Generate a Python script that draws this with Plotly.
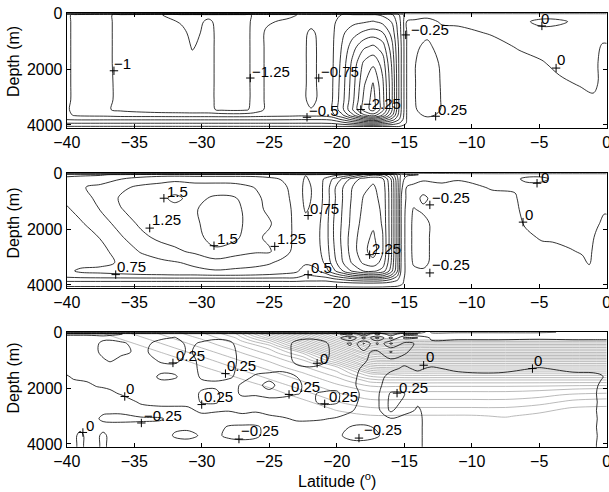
import numpy as np
import plotly.graph_objects as go

# ---------------- axes / ticks ----------------
X_TICKS = [-40, -35, -30, -25, -20, -15, -10, -5, 0]
Y_TICKS = [0, 2000, 4000]

# ---------------- panel 1 (black contours) ----------------
P1_DEPTH = [0, 50, 300, 700, 1200, 1800, 2500, 3100, 3450, 3650, 3800, 3950, 4060, 4130]
P1_LAT = [-40, -39.4, -37, -36, -33.5, -31.5, -30.7, -29.5, -28.5, -26.8, -26.0, -25.2, -23.5,
          -22.6, -21.9, -21.1, -20.4, -19.6, -18.8, -18.0, -17.3, -16.6, -15.9, -15.3, -14.8,
          -14.2, -13.3, -12.2, -11.0, -8.5, -6.5, -4.8, -3.5, -2.0, -1.0, -0.3, 0]
P1_COLS = [
    [0.02, -0.68, -0.68, -0.68, -0.68, -0.68, -0.68, -0.68, -0.70, -0.68, -0.52, -0.23, 0.02, 0.1],
    [0.02, -0.82, -0.82, -0.82, -0.82, -0.82, -0.82, -0.82, -0.85, -0.78, -0.54, -0.23, 0.02, 0.1],
    [0.02, -0.97, -0.97, -0.97, -0.97, -0.97, -0.97, -0.97, -0.98, -0.82, -0.54, -0.23, 0.02, 0.1],
    [0.02, -1.05, -1.05, -1.05, -1.05, -1.05, -1.04, -1.04, -1.05, -0.85, -0.54, -0.23, 0.02, 0.1],
    [0.02, -1.22, -1.15, -1.15, -1.15, -1.15, -1.15, -1.15, -1.15, -0.86, -0.54, -0.23, 0.02, 0.1],
    [0.02, -1.32, -1.27, -1.20, -1.18, -1.18, -1.18, -1.18, -1.18, -0.87, -0.54, -0.23, 0.02, 0.1],
    [0.02, -1.35, -1.32, -1.30, -1.26, -1.21, -1.20, -1.20, -1.20, -0.87, -0.54, -0.23, 0.02, 0.1],
    [0.02, -1.30, -1.22, -1.20, -1.20, -1.20, -1.20, -1.20, -1.20, -0.87, -0.54, -0.23, 0.02, 0.1],
    [0.02, -1.32, -1.32, -1.32, -1.32, -1.32, -1.32, -1.32, -1.30, -0.88, -0.54, -0.23, 0.02, 0.1],
    [0.02, -1.32, -1.32, -1.32, -1.32, -1.32, -1.32, -1.32, -1.30, -0.88, -0.54, -0.23, 0.02, 0.1],
    [0.02, -1.20, -1.18, -1.17, -1.17, -1.17, -1.17, -1.17, -1.15, -0.86, -0.54, -0.23, 0.02, 0.1],
    [0.02, -1.15, -1.05, -0.95, -0.95, -0.95, -0.95, -0.95, -0.95, -0.84, -0.54, -0.23, 0.02, 0.1],
    [0.02, -1.08, -0.92, -0.88, -0.88, -0.88, -0.88, -0.88, -0.88, -0.82, -0.53, -0.23, 0.02, 0.1],
    [0.02, -0.95, -0.82, -0.80, -0.80, -0.80, -0.80, -0.80, -0.80, -0.80, -0.52, -0.23, 0.02, 0.1],
    [0.02, -0.90, -0.80, -0.72, -0.70, -0.70, -0.70, -0.70, -0.76, -0.82, -0.52, -0.23, 0.02, 0.1],
    [0.02, -0.88, -0.85, -0.80, -0.80, -0.80, -0.80, -0.80, -0.80, -0.82, -0.52, -0.23, 0.02, 0.1],
    [0.02, -0.92, -0.93, -0.93, -0.93, -0.93, -0.94, -0.95, -0.98, -0.90, -0.55, -0.24, 0.02, 0.1],
    [0.02, -1.01, -1.10, -1.20, -1.27, -1.33, -1.37, -1.40, -1.42, -1.20, -0.80, -0.35, 0.02, 0.1],
    [0.02, -1.02, -1.18, -1.40, -1.65, -1.84, -1.90, -1.95, -2.02, -1.70, -1.10, -0.48, 0.02, 0.1],
    [0.02, -1.02, -1.22, -1.55, -1.95, -2.30, -2.45, -2.55, -2.60, -2.20, -1.40, -0.60, 0.02, 0.1],
    [0.02, -1.02, -1.27, -1.62, -2.05, -2.45, -2.77, -2.85, -2.85, -2.40, -1.52, -0.65, 0.02, 0.1],
    [0.02, -0.95, -1.18, -1.52, -1.88, -2.15, -2.30, -2.35, -2.35, -1.98, -1.30, -0.55, 0.02, 0.1],
    [0.02, -0.80, -0.98, -1.15, -1.32, -1.45, -1.52, -1.52, -1.52, -1.30, -0.90, -0.40, 0.02, 0.1],
    [0.02, -0.45, -0.52, -0.55, -0.60, -0.60, -0.60, -0.60, -0.60, -0.55, -0.45, -0.20, 0.02, 0.1],
    [0.02, -0.05, 0.01, 0.01, 0.02, 0.02, 0.02, 0.02, 0.02, 0.02, 0.02, 0.03, 0.05, 0.1],
    [0.02, -0.05, 0.02, 0.10, 0.20, 0.24, 0.24, 0.24, 0.22, 0.15, 0.08, 0.05, 0.05, 0.1],
    [0.02, -0.05, 0.05, 0.18, 0.32, 0.42, 0.45, 0.45, 0.42, 0.32, 0.15, 0.06, 0.05, 0.1],
    [0.02, -0.05, -0.02, 0.05, 0.12, 0.20, 0.22, 0.23, 0.23, 0.18, 0.10, 0.06, 0.05, 0.1],
    [0.02, -0.05, -0.02, 0.03, 0.08, 0.12, 0.15, 0.15, 0.15, 0.12, 0.10, 0.08, 0.06, 0.1],
    [0.02, -0.05, -0.04, -0.01, 0.04, 0.08, 0.10, 0.10, 0.10, 0.10, 0.10, 0.08, 0.06, 0.1],
    [0.02, -0.05, -0.03, -0.04, -0.01, 0.04, 0.08, 0.10, 0.10, 0.10, 0.10, 0.08, 0.06, 0.1],
    [0.02, -0.05, 0.03, -0.04, -0.04, 0.01, 0.05, 0.08, 0.10, 0.10, 0.10, 0.08, 0.06, 0.1],
    [0.02, -0.05, 0.02, -0.05, -0.05, -0.03, 0.02, 0.06, 0.08, 0.08, 0.08, 0.08, 0.06, 0.1],
    [0.02, -0.05, -0.03, -0.05, -0.05, -0.04, -0.01, 0.04, 0.06, 0.07, 0.07, 0.07, 0.06, 0.1],
    [0.02, -0.05, -0.04, -0.05, -0.03, -0.03, -0.03, 0.02, 0.05, 0.06, 0.06, 0.06, 0.06, 0.1],
    [0.02, -0.05, -0.04, -0.03, 0.01, 0.03, 0.03, 0.04, 0.05, 0.05, 0.05, 0.05, 0.05, 0.1],
    [0.02, -0.05, -0.04, -0.03, 0.01, 0.03, 0.03, 0.04, 0.05, 0.05, 0.05, 0.05, 0.05, 0.1],
]

# ---------------- panel 2 (black contours) ----------------
P2_DEPTH = [0, 50, 200, 500, 900, 1300, 1800, 2300, 2800, 3200, 3500, 3650, 3800, 3950, 4110]
P2_LAT = [-40, -39, -37.5, -36, -34.5, -33, -32, -30.5, -29, -27.5, -26, -25, -24, -23, -22.3,
          -21.5, -20.8, -20.2, -19.5, -18.8, -18.0, -17.3, -16.6, -16.0, -15.5, -15.2, -14.8,
          -14.3, -13.6, -12.9, -12.2, -11.0, -8.5, -6.8, -6.0, -4.8, -4.0, -2.8, -1.8, -1.3,
          -0.7, -0.2, 0]
P2_COLS = [
    [-0.02, 0.70, 0.80, 0.85, 0.80, 0.72, 0.66, 0.62, 0.60, 0.60, 0.68, 0.60, 0.40, 0.10, -0.05],
    [-0.02, 0.70, 0.85, 0.98, 0.92, 0.82, 0.72, 0.65, 0.62, 0.64, 0.80, 0.65, 0.40, 0.10, -0.05],
    [-0.02, 0.72, 0.90, 1.05, 1.05, 1.01, 0.88, 0.76, 0.68, 0.68, 0.82, 0.68, 0.40, 0.10, -0.05],
    [-0.02, 0.80, 0.99, 1.20, 1.28, 1.24, 1.10, 0.97, 0.85, 0.78, 0.86, 0.70, 0.40, 0.10, -0.05],
    [-0.02, 0.85, 1.10, 1.30, 1.35, 1.33, 1.30, 1.18, 1.02, 0.88, 0.90, 0.72, 0.40, 0.10, -0.05],
    [-0.02, 0.90, 1.15, 1.35, 1.45, 1.40, 1.36, 1.32, 1.12, 0.95, 0.92, 0.73, 0.40, 0.10, -0.05],
    [-0.02, 0.90, 1.18, 1.40, 1.55, 1.42, 1.38, 1.35, 1.20, 0.98, 0.93, 0.74, 0.40, 0.10, -0.05],
    [-0.02, 0.90, 1.15, 1.35, 1.42, 1.48, 1.45, 1.42, 1.30, 1.05, 0.95, 0.74, 0.40, 0.10, -0.05],
    [-0.02, 0.90, 1.15, 1.35, 1.55, 1.62, 1.65, 1.60, 1.45, 1.15, 0.98, 0.76, 0.40, 0.10, -0.05],
    [-0.02, 0.90, 1.15, 1.33, 1.52, 1.58, 1.60, 1.55, 1.35, 1.10, 0.96, 0.76, 0.40, 0.10, -0.05],
    [-0.02, 0.90, 1.12, 1.24, 1.30, 1.32, 1.32, 1.30, 1.28, 1.05, 0.95, 0.74, 0.40, 0.10, -0.05],
    [-0.02, 0.90, 1.05, 1.15, 1.18, 1.20, 1.28, 1.20, 1.28, 1.02, 0.92, 0.72, 0.40, 0.10, -0.05],
    [-0.02, 0.85, 0.98, 1.05, 1.08, 1.10, 1.10, 1.10, 1.08, 0.95, 0.85, 0.70, 0.40, 0.10, -0.05],
    [-0.02, 0.80, 0.88, 0.90, 0.92, 0.94, 0.95, 0.95, 0.94, 0.90, 0.80, 0.65, 0.40, 0.10, -0.05],
    [-0.02, 0.76, 0.72, 0.68, 0.68, 0.72, 0.85, 0.88, 0.88, 0.80, 0.60, 0.48, 0.35, 0.10, -0.05],
    [-0.02, 0.80, 0.85, 0.82, 0.82, 0.85, 0.90, 0.92, 0.90, 0.85, 0.70, 0.55, 0.35, 0.10, -0.05],
    [-0.02, 0.85, 1.05, 1.10, 1.10, 1.12, 1.15, 1.15, 1.12, 1.05, 0.90, 0.65, 0.35, 0.10, -0.05],
    [-0.02, 0.90, 1.30, 1.45, 1.45, 1.48, 1.52, 1.52, 1.48, 1.40, 1.20, 0.85, 0.45, 0.12, -0.05],
    [-0.02, 1.02, 1.55, 1.77, 1.78, 1.80, 1.82, 1.85, 1.82, 1.77, 1.52, 1.05, 0.55, 0.15, -0.05],
    [-0.02, 1.20, 1.85, 2.02, 2.05, 2.08, 2.10, 2.15, 2.15, 2.05, 1.80, 1.27, 0.65, 0.18, -0.05],
    [-0.02, 1.52, 2.10, 2.20, 2.27, 2.30, 2.35, 2.40, 2.42, 2.30, 2.02, 1.40, 0.70, 0.20, -0.05],
    [-0.02, 1.70, 2.20, 2.28, 2.32, 2.38, 2.45, 2.55, 2.62, 2.40, 2.05, 1.45, 0.72, 0.20, -0.05],
    [-0.02, 1.60, 2.05, 2.15, 2.18, 2.20, 2.22, 2.27, 2.27, 2.15, 1.90, 1.35, 0.68, 0.18, -0.05],
    [-0.02, 1.20, 1.52, 1.60, 1.62, 1.62, 1.62, 1.62, 1.60, 1.55, 1.40, 1.02, 0.52, 0.12, -0.05],
    [-0.02, 0.70, 0.80, 0.85, 0.85, 0.85, 0.85, 0.85, 0.85, 0.82, 0.77, 0.55, 0.30, 0.08, -0.05],
    [-0.02, 0.40, 0.35, 0.30, 0.22, 0.20, 0.20, 0.20, 0.20, 0.18, 0.15, 0.10, 0.05, 0.02, -0.05],
    [-0.02, 0.30, 0.15, -0.02, -0.05, -0.10, -0.12, -0.12, -0.12, -0.10, -0.08, -0.07, -0.06, -0.05, -0.05],
    [-0.02, 0.28, 0.08, -0.05, -0.15, -0.27, -0.30, -0.30, -0.30, -0.28, -0.20, -0.12, -0.08, -0.06, -0.05],
    [-0.02, 0.22, 0.05, -0.15, -0.30, -0.20, -0.35, -0.35, -0.35, -0.32, -0.22, -0.12, -0.08, -0.06, -0.05],
    [-0.02, 0.15, 0.05, -0.08, -0.20, -0.15, -0.20, -0.20, -0.20, -0.20, -0.15, -0.10, -0.08, -0.06, -0.05],
    [-0.02, 0.12, 0.04, -0.04, -0.08, -0.10, -0.10, -0.10, -0.10, -0.10, -0.10, -0.08, -0.07, -0.06, -0.05],
    [-0.02, 0.08, 0.01, -0.04, -0.06, -0.08, -0.08, -0.08, -0.08, -0.08, -0.08, -0.07, -0.06, -0.05, -0.05],
    [-0.02, 0.05, 0.03, 0.01, -0.03, -0.05, -0.06, -0.06, -0.06, -0.06, -0.06, -0.06, -0.06, -0.05, -0.05],
    [-0.02, 0.05, 0.03, 0.01, -0.01, -0.02, -0.03, -0.05, -0.06, -0.06, -0.06, -0.06, -0.06, -0.05, -0.05],
    [-0.02, 0.05, -0.03, 0.05, 0.04, 0.03, 0.01, -0.02, -0.04, -0.06, -0.06, -0.06, -0.06, -0.05, -0.05],
    [-0.02, 0.04, -0.03, 0.05, 0.05, 0.04, 0.03, 0.01, -0.03, -0.05, -0.06, -0.06, -0.06, -0.05, -0.05],
    [-0.02, 0.05, 0.02, 0.05, 0.05, 0.05, 0.04, 0.01, -0.02, -0.05, -0.06, -0.06, -0.06, -0.05, -0.05],
    [-0.02, 0.05, 0.05, 0.05, 0.05, 0.05, 0.05, 0.03, -0.01, -0.04, -0.06, -0.06, -0.06, -0.05, -0.05],
    [-0.02, 0.05, 0.05, 0.05, 0.05, 0.05, 0.05, 0.04, 0.01, -0.02, -0.05, -0.06, -0.06, -0.05, -0.05],
    [-0.02, 0.05, 0.05, 0.05, 0.05, 0.05, 0.04, 0.03, 0.02, 0.01, -0.03, -0.05, -0.06, -0.05, -0.05],
    [-0.02, 0.05, 0.05, 0.05, 0.04, 0.03, 0.01, -0.02, -0.04, -0.05, -0.06, -0.06, -0.06, -0.05, -0.05],
    [-0.02, 0.05, 0.05, 0.04, 0.03, 0.01, -0.02, -0.04, -0.05, -0.05, -0.06, -0.06, -0.06, -0.05, -0.05],
    [-0.02, 0.05, 0.05, 0.04, 0.03, 0.01, -0.02, -0.04, -0.05, -0.05, -0.06, -0.06, -0.06, -0.05, -0.05],
]

# ---------------- panel 3 (black contours) ----------------
P3_DEPTH = [0, 60, 200, 400, 700, 1000, 1300, 1600, 1900, 2200, 2500, 2800, 3100, 3400, 3700, 4000, 4110]
P3_LAT = [-40, -39.5, -39.0, -38.5, -37.8, -37.3, -36.8, -36.0, -34.5, -33.0, -32.0, -31.0, -30.0,
          -29.0, -28.0, -27.0, -26.0, -25.0, -24.0, -23.0, -22.0, -21.0, -20.0, -19.0, -18.0,
          -17.0, -16.0, -15.0, -14.0, -13.0, -11.0, -8.0, -5.0, -2.5, -1.0, -0.4, 0]
P3_COLS = [
    [-0.8, 0.30, 0.15, 0.12, 0.12, 0.10, 0.06, -0.02, -0.06, -0.08, -0.10, -0.12, -0.12, -0.10, -0.10, -0.10, -0.10],
    [-0.8, 0.30, 0.15, 0.12, 0.12, 0.10, 0.08, 0.02, -0.05, -0.08, -0.10, -0.12, -0.13, -0.10, -0.10, -0.10, -0.10],
    [-0.8, 0.30, 0.15, 0.12, 0.12, 0.10, 0.08, 0.03, -0.04, -0.08, -0.10, -0.12, -0.13, -0.10, 0.10, 0.10, 0.10],
    [-0.8, 0.30, 0.15, 0.12, 0.12, 0.10, 0.08, 0.04, -0.03, -0.08, -0.10, -0.13, -0.15, -0.10, -0.10, -0.10, -0.10],
    [-0.8, 0.30, 0.18, 0.22, 0.22, 0.15, 0.10, 0.05, 0.01, -0.06, -0.10, -0.18, -0.22, -0.10, -0.10, -0.10, -0.10],
    [-0.8, 0.30, 0.20, 0.30, 0.32, 0.22, 0.12, 0.06, 0.02, -0.05, -0.10, -0.20, -0.30, -0.15, 0.10, 0.10, 0.10],
    [-0.8, 0.28, 0.20, 0.32, 0.34, 0.28, 0.12, 0.06, 0.03, -0.03, -0.10, -0.20, -0.32, -0.15, -0.10, -0.10, -0.10],
    [-0.8, 0.26, 0.18, 0.28, 0.30, 0.20, 0.10, 0.08, 0.05, 0.01, -0.08, -0.20, -0.32, -0.15, -0.10, -0.10, -0.10],
    [-0.8, 0.20, 0.15, 0.18, 0.20, 0.15, 0.10, 0.08, 0.06, 0.04, 0.02, -0.06, -0.30, -0.15, -0.10, -0.10, -0.10],
    [-0.8, 0.20, 0.22, 0.32, 0.34, 0.28, 0.18, 0.30, 0.15, 0.06, 0.03, -0.03, -0.28, -0.12, -0.10, -0.10, -0.10],
    [-0.8, 0.20, 0.26, 0.35, 0.36, 0.30, 0.18, 0.28, 0.12, 0.06, 0.03, -0.03, -0.10, -0.20, -0.28, -0.15, -0.12],
    [-0.8, 0.20, 0.18, 0.20, 0.22, 0.18, 0.15, 0.12, 0.10, 0.08, 0.04, -0.03, -0.08, -0.20, -0.32, -0.15, -0.12],
    [-0.8, 0.20, 0.18, 0.28, 0.32, 0.30, 0.30, 0.28, 0.18, 0.30, 0.28, 0.03, -0.06, -0.15, -0.22, -0.12, -0.10],
    [-0.8, 0.20, 0.22, 0.32, 0.35, 0.33, 0.32, 0.30, 0.20, 0.32, 0.30, 0.02, -0.08, -0.15, -0.20, -0.12, -0.10],
    [-0.8, 0.20, 0.20, 0.30, 0.33, 0.32, 0.30, 0.28, 0.15, 0.10, 0.08, 0.01, -0.10, -0.28, -0.30, -0.15, -0.12],
    [-0.8, 0.18, 0.12, 0.15, 0.18, 0.20, 0.20, 0.18, 0.28, 0.30, 0.12, 0.06, -0.10, -0.30, -0.35, -0.15, -0.12],
    [-0.8, 0.18, 0.10, 0.08, 0.10, 0.12, 0.18, 0.28, 0.30, 0.28, 0.15, 0.02, -0.08, -0.30, -0.30, -0.15, -0.12],
    [-0.8, 0.18, 0.12, 0.10, 0.10, 0.12, 0.20, 0.30, 0.20, 0.30, 0.20, 0.05, -0.04, -0.15, -0.15, -0.12, -0.10],
    [-0.8, 0.18, 0.12, 0.10, 0.10, 0.12, 0.22, 0.30, 0.32, 0.30, 0.18, 0.08, -0.02, -0.10, -0.12, -0.12, -0.10],
    [-0.8, 0.15, 0.05, -0.05, -0.06, -0.05, 0.05, 0.26, 0.30, 0.26, 0.15, 0.08, 0.02, -0.06, -0.10, -0.10, -0.10],
    [-0.8, 0.15, 0.02, -0.08, -0.10, -0.08, 0.02, 0.12, 0.18, 0.22, 0.20, 0.10, 0.02, -0.06, -0.10, -0.10, -0.10],
    [-0.8, 0.15, 0.05, -0.04, -0.05, -0.03, 0.04, 0.10, 0.15, 0.28, 0.30, 0.12, 0.01, -0.08, -0.12, -0.12, -0.10],
    [-0.8, 0.20, 0.12, 0.08, 0.06, 0.06, 0.08, 0.10, 0.15, 0.30, 0.28, 0.10, -0.02, -0.15, -0.20, -0.15, -0.12],
    [-0.8, 0.40, -0.30, 0.30, 0.10, 0.08, 0.05, 0.04, 0.03, 0.06, 0.05, 0.02, -0.06, -0.26, -0.32, -0.18, -0.12],
    [-0.8, -0.40, 0.35, -0.28, 0.05, 0.02, -0.02, -0.04, -0.04, -0.03, -0.04, -0.06, -0.12, -0.30, -0.35, -0.18, -0.12],
    [-0.8, 0.40, -0.35, 0.30, -0.05, -0.06, -0.06, -0.06, -0.05, -0.05, -0.05, -0.08, -0.12, -0.22, -0.28, -0.15, -0.10],
    [-0.6, -0.30, 0.35, -0.30, 0.28, -0.05, -0.03, 0.05, 0.10, 0.28, 0.32, 0.30, -0.02, -0.10, -0.10, -0.08, -0.08],
    [-0.5, 0.30, -0.30, 0.05, 0.02, -0.04, 0.02, 0.08, 0.12, 0.26, 0.22, 0.06, -0.06, -0.08, -0.08, -0.08, -0.08],
    [-0.4, 0.26, -0.26, -0.02, -0.05, -0.06, -0.02, 0.05, 0.08, 0.06, 0.02, -0.02, -0.03, -0.03, -0.03, -0.03, -0.03],
    [0.3, 0.12, 0.04, -0.06, -0.10, -0.08, 0.02, 0.06, 0.08, 0.08, 0.08, 0.07, 0.06, 0.06, 0.06, 0.06, 0.06],
    [0.3, 0.10, 0.03, -0.06, -0.10, -0.10, -0.03, 0.05, 0.08, 0.08, 0.08, 0.08, 0.07, 0.06, 0.06, 0.06, 0.06],
    [0.3, 0.10, 0.03, -0.06, -0.10, -0.10, -0.04, 0.04, 0.08, 0.08, 0.08, 0.08, 0.07, 0.06, 0.06, 0.06, 0.06],
    [0.3, 0.10, 0.02, -0.06, -0.10, -0.08, 0.01, 0.05, 0.08, 0.08, 0.08, 0.08, 0.07, 0.06, 0.06, 0.06, 0.06],
    [0.2, 0.10, 0.03, -0.06, -0.10, -0.10, -0.03, 0.04, 0.06, 0.06, 0.06, 0.05, 0.05, 0.05, 0.05, 0.05, 0.05],
    [0.2, 0.10, 0.03, -0.06, -0.10, -0.10, -0.03, 0.03, 0.03, 0.02, 0.02, 0.02, 0.02, 0.02, 0.02, 0.02, 0.02],
    [0.1, 0.10, 0.03, -0.06, -0.10, -0.10, -0.03, 0.01, -0.02, -0.03, -0.02, -0.03, -0.02, -0.03, -0.02, -0.03, -0.03],
    [0.1, 0.10, 0.03, -0.06, -0.10, -0.10, -0.03, -0.02, -0.03, -0.03, -0.03, -0.03, -0.03, -0.03, -0.03, -0.03, -0.03],
]

# ---------------- panel 3 (grey contours) ----------------
P3G_DEPTH = [0, 150, 300, 500, 750, 1000, 1250, 1500, 1750, 2000, 2250, 2500, 2750, 3000, 3500, 4110]
P3G_LAT = [-40, -37.5, -35, -32.5, -30, -27.5, -25, -22.5, -20, -17.5, -15, -12.5, -10, -7.5, -5, -2.5, 0]
P3G_COLS = [
    [31.2, 31.5, 31.8, 32.1, 32.6, 33.1, 33.5, 34.0, 34.5, 34.9, 35.4, 35.9, 36.4, 36.8, 37.8, 38.9],
    [30.0, 30.45, 30.9, 31.4, 31.9, 32.4, 32.9, 33.4, 33.9, 34.4, 34.8, 35.3, 35.8, 36.3, 37.2, 38.4],
    [28.75, 29.22, 29.69, 30.3, 31.05, 31.6, 32.1, 32.55, 33.0, 33.5, 34.0, 34.4, 34.9, 35.4, 36.3, 37.5],
    [27.5, 27.97, 28.44, 29.06, 29.84, 30.6, 31.3, 31.8, 32.2, 32.7, 33.2, 33.7, 34.1, 34.6, 35.5, 36.7],
    [26.0, 26.63, 27.19, 27.81, 28.6, 29.4, 30.1, 30.9, 31.5, 32.0, 32.4, 32.9, 33.4, 33.8, 34.8, 35.9],
    [23.75, 24.76, 25.52, 26.42, 27.35, 28.13, 28.9, 29.69, 30.45, 31.2, 31.7, 32.1, 32.6, 33.1, 34.0, 35.2],
    [17.5, 19.85, 22.19, 24.48, 25.76, 26.83, 27.65, 28.44, 29.22, 30.05, 30.75, 31.4, 31.9, 32.3, 33.3, 34.4],
    [11.25, 13.6, 15.94, 19.06, 22.97, 25.04, 26.2, 27.19, 27.97, 28.75, 29.53, 30.3, 31.05, 31.6, 32.5, 33.7],
    [5.5, 7.34, 9.69, 12.81, 16.72, 20.63, 24.19, 25.52, 26.63, 27.5, 28.28, 29.05, 29.84, 30.6, 31.8, 32.9],
    [-1.25, 1.1, 3.44, 6.56, 10.47, 14.38, 18.28, 22.19, 24.76, 26.5, 27.5, 28.3, 29.2, 30.1, 31.1, 32.1],
    [-3.0, -1.2, 1.5, 5.2, 9.5, 14.2, 18.1, 21.5, 24.5, 26.5, 27.5, 28.3, 29.2, 30.1, 31.1, 32.0],
    [-3.0, -1.2, 1.5, 5.2, 9.5, 14.2, 18.1, 21.5, 24.5, 26.5, 27.5, 28.3, 29.2, 30.1, 31.1, 32.0],
    [-3.0, -1.2, 1.5, 5.2, 9.5, 14.2, 18.1, 21.5, 24.5, 26.5, 27.5, 28.3, 29.2, 30.1, 31.1, 32.0],
    [-3.0, -1.2, 1.5, 5.2, 9.5, 14.2, 18.1, 21.5, 24.5, 26.5, 27.5, 28.3, 29.2, 29.9, 31.1, 32.0],
    [-3.0, -1.2, 1.5, 5.2, 9.5, 14.2, 18.1, 21.5, 24.5, 26.6, 27.7, 28.6, 29.6, 30.3, 31.2, 32.0],
    [-3.0, -1.2, 1.5, 5.2, 9.5, 14.2, 18.1, 21.5, 24.5, 26.8, 28.2, 29.3, 30.2, 30.8, 31.5, 32.2],
    [-3.0, -1.2, 1.5, 5.2, 9.5, 14.2, 18.1, 21.5, 24.5, 26.9, 28.4, 29.5, 30.3, 30.9, 31.6, 32.2],
]

# ---------------- contour labels: (text, text lat, text depth, marker lat, marker depth) ----------------
LABELS_P1 = [
    ("\u22121", -36.59, 1810, -36.5, 2060),
    ("\u22121.25", -26.32, 2085, -26.4, 2320),
    ("\u22120.75", -21.26, 2085, -21.33, 2320),
    ("\u22120.5", -22.13, 3470, -22.2, 3727),
    ("\u22122.25", -18.1, 3230, -18.22, 3450),
    ("\u22120.25", -14.6, 585, -14.89, 775),
    ("0.25", -12.6, 3450, -12.67, 3690),
    ("0", -4.91, 180, -4.8, 453),
    ("0", -3.73, 1667, -3.75, 1963),
]
LABELS_P2 = [
    ("1.5", -32.67, 640, -32.8, 893),
    ("1.25", -33.73, 1667, -33.85, 1964),
    ("1.5", -28.91, 2320, -29.09, 2595),
    ("0.75", -36.37, 3345, -36.37, 3631),
    ("0.75", -22.05, 1250, -22.12, 1513),
    ("1.25", -24.47, 2320, -24.59, 2620),
    ("0.5", -22.0, 3390, -22.12, 3631),
    ("2.25", -17.43, 2710, -17.56, 2917),
    ("\u22120.25", -12.99, 875, -13.1, 1132),
    ("0", -6.13, 1489, -6.2, 1750),
    ("\u22120.25", -12.99, 3256, -13.1, 3570),
    ("0", -4.96, 150, -5.16, 357),
]
LABELS_P3 = [
    ("0.25", -32.0, 820, -32.13, 1097),
    ("0.25", -28.17, 1180, -28.24, 1480),
    ("0", -35.7, 2022, -35.7, 2300),
    ("0.25", -29.9, 2293, -30.0, 2590),
    ("\u22120.25", -34.35, 2985, -34.47, 3250),
    ("0", -38.67, 3335, -38.8, 3590),
    ("\u22120.25", -27.19, 3527, -27.24, 3826),
    ("0", -21.33, 939, -21.45, 1110),
    ("0.25", -23.48, 1932, -23.53, 2227),
    ("0.25", -20.64, 2293, -20.89, 2563),
    ("\u22120.25", -18.05, 3491, -18.35, 3791),
    ("0", -13.48, 850, -13.56, 1180),
    ("0.25", -15.46, 1963, -15.53, 2180),
    ("0", -5.46, 1012, -5.5, 1300),
]

# ---------------- figure ----------------
FONT = "Liberation Sans, Arial, Helvetica, sans-serif"
W, H = 609, 492


def px_x(p):
    return p / W


def px_y(p):
    return 1 - p / H


X_DOM = [px_x(66.7), px_x(606.7)]
Y_DOMS = [[px_y(127.7), px_y(13.3)],
          [px_y(287.7), px_y(173.3)],
          [px_y(446.7), px_y(332.3)]]

fig = go.Figure()


def add_field(lat, depth, cols, start, end, size, color, width, idx):
    z = np.array(cols, dtype=float).T
    fig.add_trace(go.Contour(
        x=lat, y=depth, z=z, autocontour=False,
        contours=dict(coloring="none", start=start, end=end, size=size, showlabels=False),
        line=dict(color=color, width=width, smoothing=1.0),
        showscale=False, hoverinfo="skip",
        xaxis="x" if idx == 1 else f"x{idx}", yaxis="y" if idx == 1 else f"y{idx}",
    ))


add_field(P1_LAT, P1_DEPTH, P1_COLS, -3.0, 0.5, 0.25, "black", 0.8, 1)
add_field(P2_LAT, P2_DEPTH, P2_COLS, -0.5, 3.0, 0.25, "black", 0.8, 2)
add_field(P3G_LAT, P3G_DEPTH, P3G_COLS, 1, 30, 1, "#a8a8a8", 0.8, 3)
add_field(P3_LAT, P3_DEPTH, P3_COLS, -1.0, 1.0, 0.25, "black", 0.8, 3)

annotations = []
for idx, labels in enumerate([LABELS_P1, LABELS_P2, LABELS_P3], start=1):
    xr = "x" if idx == 1 else f"x{idx}"
    yr = "y" if idx == 1 else f"y{idx}"
    fig.add_trace(go.Scatter(
        x=[l[3] for l in labels], y=[l[4] for l in labels], mode="markers",
        marker=dict(symbol="cross-thin", size=6, line=dict(color="black", width=1)),
        hoverinfo="skip", showlegend=False, xaxis=xr, yaxis=yr))
    for text, tx, ty, _, _ in labels:
        annotations.append(dict(x=tx, y=ty, xref=xr, yref=yr, text=text, showarrow=False,
                                xanchor="left", yanchor="middle", borderpad=0,
                                font=dict(family=FONT, size=15, color="black")))

# y-axis titles
for yc in [px_y(61.7), px_y(223.3), px_y(378.3)]:
    annotations.append(dict(x=px_x(13.3), y=yc, xref="paper", yref="paper", text="Depth (m)",
                            textangle=-90, showarrow=False, xanchor="center", yanchor="middle",
                            font=dict(family=FONT, size=16, color="black")))
# x-axis title
annotations.append(dict(x=px_x(336.7), y=px_y(480), xref="paper", yref="paper",
                        text="Latitude (<sup>o</sup>)", showarrow=False,
                        xanchor="center", yanchor="middle",
                        font=dict(family=FONT, size=16, color="black")))

axis_common = dict(showgrid=False, zeroline=False, showline=True, linecolor="black", linewidth=1,
                   mirror="ticks", ticks="inside", ticklen=4, tickwidth=1, tickcolor="black",
                   automargin=False, ticklabeloverflow="allow",
                   tickfont=dict(family=FONT, size=16, color="black"))
layout = dict(width=W, height=H, margin=dict(l=0, r=0, t=0, b=0, autoexpand=False), autosize=False,
              paper_bgcolor="white", plot_bgcolor="white", showlegend=False,
              annotations=annotations)
for i in range(1, 4):
    xs = "xaxis" if i == 1 else f"xaxis{i}"
    ys = "yaxis" if i == 1 else f"yaxis{i}"
    layout[xs] = dict(domain=X_DOM, anchor="y" if i == 1 else f"y{i}", range=[-40, 0],
                      tickvals=X_TICKS, **axis_common)
    layout[ys] = dict(domain=Y_DOMS[i - 1], anchor="x" if i == 1 else f"x{i}", range=[4100, 0],
                      tickvals=Y_TICKS, **axis_common)
fig.update_layout(**layout)

# remove the default page margin so the figure sits at the top-left corner of the window
fig.write_html("out.html", config={"displayModeBar": False},
               post_script="document.body.style.margin='0px';document.body.style.overflow='hidden';")
